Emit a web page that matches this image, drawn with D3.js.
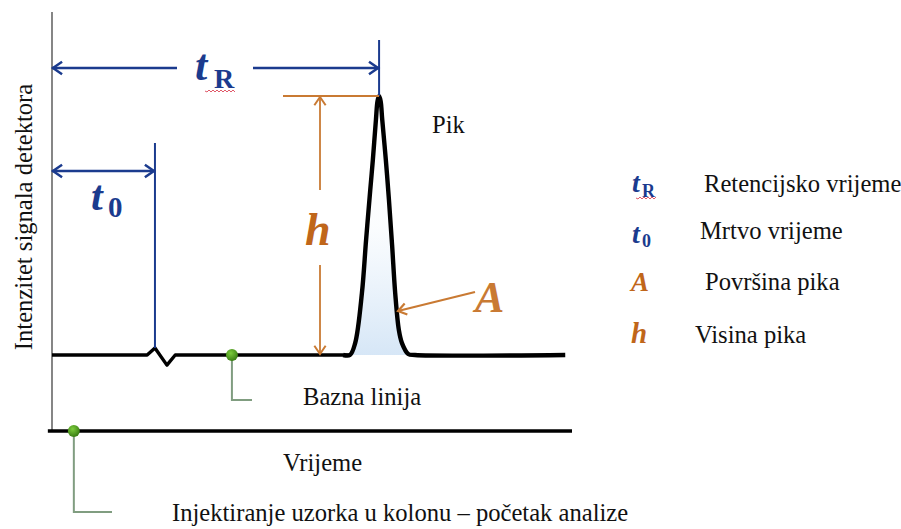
<!DOCTYPE html>
<html><head><meta charset="utf-8">
<script src="https://cdn.jsdelivr.net/npm/d3@7"></script>
<style>body{margin:0;background:#fff}svg{display:block}</style>
</head><body><svg id="c" width="901" height="529"></svg>
<script>
// ---------- data (time in arbitrary minutes, signal in % of peak height) ----------
const baseTime   = [0, 1.83, 1.98, 2.21, 2.37, 5.73];
const baseSignal = [0, 0, 2.7, -3.9, 0, 0];
const peakTime   = [5.60, 5.73, 5.83, 5.96, 6.04, 6.12, 6.17, 6.23, 6.26, 6.29, 6.32, 6.35, 6.42, 6.48, 6.54, 6.60, 6.67, 6.73, 6.85, 6.98, 9.87];
const peakSignal = [0, 0, 4.6, 23.9, 44.4, 63.7, 75.3, 91, 98, 100, 98, 91, 75.3, 59.8, 42.5, 23.9, 9.7, 4.6, 0.4, 0, 0];
const timeAxisRange   = [-0.08, 10];
const signalAxisRange = [-29.3, 132.4];
const tR = 6.29, t0 = 1.98, injectionTime = 0.42, baselineMarkTime = 3.46;
const legendLabels = ["Retencijsko vrijeme", "Mrtvo vrijeme", "Površina pika", "Visina pika"];
const legendSymbols = ["tR", "t0", "A", "h"];
const textLabels = { peak: "Pik", baseline: "Bazna linija", xTitle: "Vrijeme",
  inject: "Injektiranje uzorka u kolonu – početak analize", yTitle: "Intenzitet signala detektora" };

// ---------- setup ----------
const svg = d3.select("#c");
const x = d3.scaleLinear().domain([0, 10]).range([52, 572]);
const y = d3.scaleLinear().domain([0, 100]).range([355, 96]);
const BLUE = "#1b3b8e", ORANGE = "#c97a33", ORANGE_T = "#c0661a", GRAY = "#809d80";
const SERIF = "'Liberation Serif','Times New Roman',serif";
const FS = 24.6;

const defs = svg.append("defs");
const grad = defs.append("linearGradient").attr("id", "pkfill").attr("x1", 0).attr("y1", 0).attr("x2", 0).attr("y2", 1);
grad.append("stop").attr("offset", "0%").attr("stop-color", "#d6e7f7").attr("stop-opacity", 0);
grad.append("stop").attr("offset", "50%").attr("stop-color", "#d6e7f7").attr("stop-opacity", 0.1);
grad.append("stop").attr("offset", "100%").attr("stop-color", "#cfe2f5").attr("stop-opacity", 0.85);
const dotGrad = defs.append("radialGradient").attr("id", "dot").attr("cx", "40%").attr("cy", "35%").attr("r", "65%");
dotGrad.append("stop").attr("offset", "0%").attr("stop-color", "#7ccc3c");
dotGrad.append("stop").attr("offset", "100%").attr("stop-color", "#3a7f14");

function chevron(g, tx, ty, ang, color, len = 10, w = 2.5) {
  const a1 = ang + Math.PI - 0.6, a2 = ang + Math.PI + 0.6;
  g.append("path")
    .attr("d", `M${tx + len * Math.cos(a1)},${ty + len * Math.sin(a1)}L${tx},${ty}L${tx + len * Math.cos(a2)},${ty + len * Math.sin(a2)}`)
    .attr("fill", "none").attr("stroke", color).attr("stroke-width", w).attr("stroke-linejoin", "miter");
}
function wavy(g, x0, x1, yy) {
  let d = `M${x0},${yy}`;
  for (let xx = x0, i = 0; xx < x1; xx += 2, i++) d += `L${xx + 2},${yy + (i % 2 ? -1 : 1)}`;
  g.append("path").attr("d", d).attr("fill", "none").attr("stroke", "#e05a6a").attr("stroke-width", 1);
}

// ---------- axes ----------
svg.append("line").attr("x1", x(0)).attr("x2", x(0))
  .attr("y1", y(signalAxisRange[1])).attr("y2", y(signalAxisRange[0]))
  .attr("stroke", "#444").attr("stroke-width", 1.3);
svg.append("line").attr("x1", x(timeAxisRange[0])).attr("x2", x(timeAxisRange[1]))
  .attr("y1", y(signalAxisRange[0])).attr("y2", y(signalAxisRange[0]))
  .attr("stroke", "#000").attr("stroke-width", 3.5);

// ---------- peak fill + trace ----------
const pts = peakTime.map((t, i) => [t, peakSignal[i]]);
svg.append("path").datum(pts.filter(p => p[0] < 7.2))
  .attr("d", d3.area().x(d => x(d[0])).y0(y(0)).y1(d => y(d[1])).curve(d3.curveCatmullRom.alpha(0.5)))
  .attr("fill", "url(#pkfill)");
svg.append("path").datum(baseTime.map((t, i) => [t, baseSignal[i]]))
  .attr("d", d3.line().x(d => x(d[0])).y(d => y(d[1])))
  .attr("fill", "none").attr("stroke", "#000").attr("stroke-width", 3.4).attr("stroke-linejoin", "round");
svg.append("path").datum(pts)
  .attr("d", d3.line().x(d => x(d[0])).y(d => y(d[1])).curve(d3.curveCatmullRom.alpha(0.5)))
  .attr("fill", "none").attr("stroke", "#000").attr("stroke-width", 4.4).attr("stroke-linejoin", "round");

// ---------- tR annotation ----------
const ann = svg.append("g");
const yTR = 68, yTRtop = 40;
ann.append("line").attr("x1", x(tR)).attr("x2", x(tR)).attr("y1", yTRtop).attr("y2", y(100))
  .attr("stroke", BLUE).attr("stroke-width", 2);
ann.append("line").attr("x1", x(0)).attr("x2", 177).attr("y1", yTR).attr("y2", yTR).attr("stroke", BLUE).attr("stroke-width", 2.5);
ann.append("line").attr("x1", 253).attr("x2", x(tR)).attr("y1", yTR).attr("y2", yTR).attr("stroke", BLUE).attr("stroke-width", 2.5);
chevron(ann, x(0) + 1, yTR, Math.PI, BLUE, 11);
chevron(ann, x(tR) - 1, yTR, 0, BLUE, 11);
const tRl = ann.append("text").attr("font-family", SERIF).attr("fill", BLUE).attr("font-weight", "bold");
tRl.append("tspan").attr("x", 195).attr("y", 80).attr("font-size", 44).attr("font-style", "italic").text("t");
tRl.append("tspan").attr("x", 214).attr("y", 88).attr("font-size", 28).text("R");
wavy(ann, 205, 234, 91);

// ---------- t0 annotation ----------
const yT0 = 171;
ann.append("line").attr("x1", x(t0)).attr("x2", x(t0)).attr("y1", 143).attr("y2", y(2.7))
  .attr("stroke", BLUE).attr("stroke-width", 2);
ann.append("line").attr("x1", x(0)).attr("x2", x(t0)).attr("y1", yT0).attr("y2", yT0).attr("stroke", BLUE).attr("stroke-width", 2.5);
chevron(ann, x(0) + 1, yT0, Math.PI, BLUE, 11);
chevron(ann, x(t0) - 1, yT0, 0, BLUE, 11);
const t0l = ann.append("text").attr("font-family", SERIF).attr("fill", BLUE).attr("font-weight", "bold");
t0l.append("tspan").attr("x", 91).attr("y", 210).attr("font-size", 42).attr("font-style", "italic").text("t");
t0l.append("tspan").attr("x", 108).attr("y", 217).attr("font-size", 29).text("0");

// ---------- h annotation ----------
const hX = 320;
ann.append("line").attr("x1", 283).attr("x2", x(tR)).attr("y1", y(100)).attr("y2", y(100)).attr("stroke", ORANGE).attr("stroke-width", 1.8);
ann.append("line").attr("x1", hX).attr("x2", hX).attr("y1", y(100) + 1).attr("y2", 190).attr("stroke", ORANGE).attr("stroke-width", 1.8);
ann.append("line").attr("x1", hX).attr("x2", hX).attr("y1", 265).attr("y2", y(0) - 1).attr("stroke", ORANGE).attr("stroke-width", 1.8);
chevron(ann, hX, y(100) + 1, -Math.PI / 2, ORANGE, 10, 2);
chevron(ann, hX, y(0) - 1, Math.PI / 2, ORANGE, 10, 2);
ann.append("text").attr("x", 305).attr("y", 245).attr("font-family", SERIF).attr("font-size", 46)
  .attr("font-weight", "bold").attr("font-style", "italic").attr("fill", ORANGE_T).text("h");

// ---------- A annotation ----------
const ax0 = 475, ay0 = 292, ax1 = 398, ay1 = 311;
ann.append("line").attr("x1", ax0).attr("x2", ax1).attr("y1", ay0).attr("y2", ay1).attr("stroke", ORANGE).attr("stroke-width", 2.2);
chevron(ann, ax1, ay1, Math.atan2(ay1 - ay0, ax1 - ax0), ORANGE, 10, 2.2);
ann.append("text").attr("x", 475).attr("y", 312).attr("font-family", SERIF).attr("font-size", 44)
  .attr("font-weight", "bold").attr("font-style", "italic").attr("fill", ORANGE).text("A");

// ---------- markers ----------
function marker(t, s, yEnd, xEnd) {
  svg.append("path").attr("d", `M${x(t)},${y(s)}V${yEnd}H${xEnd}`).attr("fill", "none").attr("stroke", GRAY).attr("stroke-width", 2);
  svg.append("circle").attr("cx", x(t)).attr("cy", y(s)).attr("r", 6).attr("fill", "url(#dot)");
}
marker(baselineMarkTime, 0, 400, 252);
marker(injectionTime, signalAxisRange[0], 512, 112);

// ---------- texts ----------
const T = (tx, ty, s, size = FS) => svg.append("text").attr("x", tx).attr("y", ty).attr("font-family", SERIF)
  .attr("font-size", size).attr("fill", "#111").text(s);
T(432, 133, textLabels.peak);
T(303, 405, textLabels.baseline);
T(283, 471, textLabels.xTitle);
T(172, 521, textLabels.inject);
svg.append("text").attr("transform", "translate(32,217) rotate(-90)").attr("text-anchor", "middle")
  .attr("font-family", SERIF).attr("font-size", FS).attr("fill", "#111").text(textLabels.yTitle);

// ---------- legend ----------
const legY = [192, 239, 290, 343], legX = [704, 700, 705, 695];
legendLabels.forEach((l, i) => T(legX[i], legY[i], l));
legendSymbols.forEach((s, i) => {
  const g = svg.append("text").attr("font-family", SERIF).attr("font-weight", "bold");
  if (s === "tR" || s === "t0") {
    g.attr("fill", BLUE);
    g.append("tspan").attr("x", 632).attr("y", legY[i] + (s === "t0" ? 4 : 0)).attr("font-size", 28).attr("font-style", "italic").text("t");
    g.append("tspan").attr("x", 642).attr("y", legY[i] + (s === "t0" ? 8 : 5)).attr("font-size", 18).text(s[1]);
  } else {
    g.attr("fill", ORANGE_T).append("tspan").attr("x", 631).attr("y", legY[i] + (s === "A" ? 1 : 0))
      .attr("font-size", s === "A" ? 27 : 29).attr("font-style", "italic").text(s);
  }
});
wavy(svg, 636, 655, 198);
</script></body></html>
